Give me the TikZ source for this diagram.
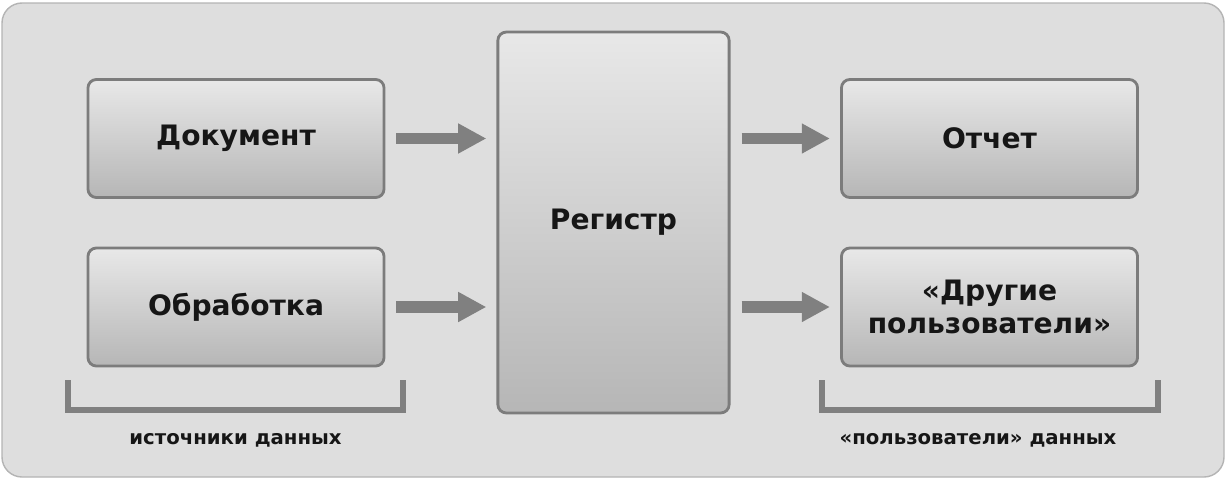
\documentclass[tikz,border=0pt]{standalone}
\usepackage{fontspec}
\setmainfont{DejaVu Sans}
\usetikzlibrary{arrows.meta}

\definecolor{bgfill}{HTML}{DEDEDE}
\definecolor{bgline}{HTML}{B4B4B4}
\definecolor{boxline}{HTML}{7C7C7C}
\definecolor{boxtop}{HTML}{E8E8E8}
\definecolor{boxbot}{HTML}{B6B6B6}
\definecolor{flow}{HTML}{808080}
\definecolor{ink}{HTML}{161616}

\tikzset{
  block/.style={draw=boxline, line width=2pt, rounded corners=6pt,
    top color=boxtop, bottom color=boxbot, text=ink,
    font=\fontsize{20}{24}\selectfont\bfseries, align=center,
    minimum width=7.4cm, minimum height=2.95cm, inner sep=0pt},
  flowarrow/.style={draw=flow, line width=8.5pt,
    -{Triangle[length=20pt,width=20pt]}, shorten <=7.8pt, shorten >=7.2pt},
  bracket/.style={draw=flow, line width=4.5pt},
  caption/.style={text=ink, font=\fontsize{14}{16}\selectfont\bfseries}
}

\begin{document}
\begin{tikzpicture}[x=0.025cm,y=-0.025cm]
\useasboundingbox (0,0) rectangle (1227,480);
\draw[fill=bgfill, draw=bgline, line width=1pt, rounded corners=0.5cm] (2,3) rectangle (1224,477);

% sources
\node[block] (doc) at (236,138.5) {Документ};
\node[block] (proc) at (236,307) {Обработка};
% register
\node[block, minimum width=5.78cm, minimum height=9.52cm] (reg) at (613.5,222.5) {Регистр};
% users
\node[block] (rep) at (989.5,138.5) {Отчет};
\node[block] (other) at (989.5,307) {«Другие\\пользователи»};

\draw[flowarrow] (doc.east) -- (doc.east -| reg.west);
\draw[flowarrow] (proc.east) -- (proc.east -| reg.west);
\draw[flowarrow] (rep.west -| reg.east) -- (rep.west);
\draw[flowarrow] (other.west -| reg.east) -- (other.west);

% brackets
\draw[bracket] (68,380) -- (68,410) -- (403,410) -- (403,380);
\draw[bracket] (822,380) -- (822,410) -- (1158,410) -- (1158,380);
\node[caption] (src) at (235.5,440) {источники данных};
\node[caption] (usr) at (978,440) {«пользователи» данных};
\end{tikzpicture}
\end{document}
